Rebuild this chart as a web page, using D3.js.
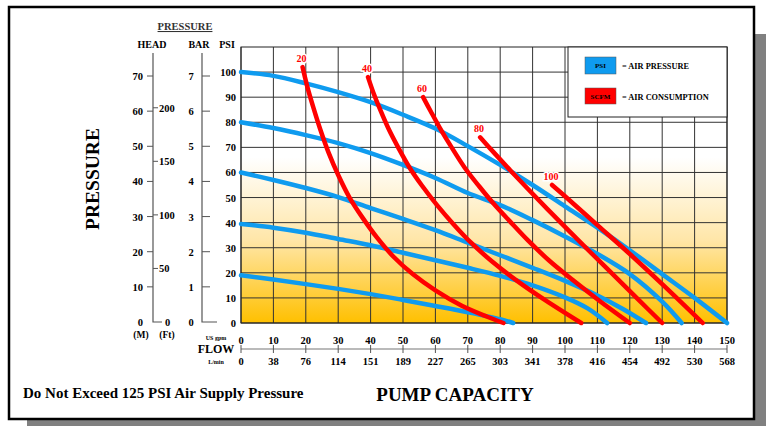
<!DOCTYPE html>
<html>
<head>
<meta charset="utf-8">
<script src="https://cdn.jsdelivr.net/npm/d3@7"></script>
<style>
  body { margin: 0; background: #fff; }
  svg text { font-family: "Liberation Serif", "DejaVu Serif", serif; font-weight: bold; }
</style>
</head>
<body>
<div id="chart"></div>
<script>
// air pressure curves (psi) : [gpm, psi discharge]
var psiLevels = [20, 40, 60, 80, 100];
var psi20 = [[0,19],[10,17.3],[20,15.5],[30,13.6],[40,11.5],[50,9.2],[60,6.8],[70,4.3],[80,1.5],[84,0]];
var psi40 = [[0,39.5],[10,38],[20,36],[30,33.5],[40,31],[50,28],[60,25],[70,22],[80,18.8],[90,15],[100,10.2],[107,5.8],[113,0]];
var psi60 = [[0,60],[10,57],[20,53.8],[30,50.2],[40,45.8],[50,41.5],[60,37],[70,32],[80,27],[90,22],[100,16.8],[110,11],[118,5.5],[125,0]];
var psi80 = [[0,80],[10,77.7],[20,74.9],[30,71.7],[40,67.7],[50,63],[60,57.8],[70,51.8],[80,47],[90,41],[100,34.5],[110,27.5],[120,19.5],[130,8.5],[136,0]];
var psi100 = [[0,100],[10,98.5],[20,95.5],[30,92],[40,88],[50,83],[60,77.5],[70,70.5],[80,63],[90,55],[100,46.5],[110,38],[120,29],[130,19.5],[140,10],[150,0]];

// air consumption curves (scfm)
var scfmLevels = [20, 40, 60, 80, 100];
var scfm20 = [[19,102],[20.5,94],[22.3,86],[24.5,77],[27,68],[30,59],[33.5,50],[37.5,42],[42,34],[47,26.5],[53,19.5],[60,13],[68,7],[76,2.5],[81,0]];
var scfm40 = [[39.2,98],[40.8,92],[42.8,85.5],[45.5,77.5],[48.5,70],[52,62],[56,54.5],[60.5,47],[65.5,39.5],[71,32],[77.5,24.5],[85,17],[94,9],[105,0]];
var scfm60 = [[56.2,90],[58.5,84.5],[61.4,77.7],[65,70],[69,62],[73.5,54.5],[78,47.5],[83,40.5],[88.5,33],[95,25],[102.5,17],[111,8.5],[120,0]];
var scfm80 = [[73.8,74],[78,68],[83,61],[88.5,53.5],[94.5,45.5],[101,37],[108,28],[115.5,18.5],[122.5,9.5],[130,0]];
var scfm100 = [[96,55],[100,50.5],[110,39],[120,27.5],[130,15.5],[142.5,0]];

// axis ticks
var gpmTicks = [0,10,20,30,40,50,60,70,80,90,100,110,120,130,140,150];
var lminTicks = [0,38,76,114,151,189,227,265,303,341,378,416,454,492,530,568];
var psiTicks = [0,10,20,30,40,50,60,70,80,90,100];
var meterTicks = [0,10,20,30,40,50,60,70];
var barTicks = [0,1,2,3,4,5,6,7];
var feetTicks = [0,50,100,150,200];

var W = 766, H = 426;
var blue = "#0f9bef", red = "#ff0000";

var svg = d3.select("#chart").append("svg").attr("width", W).attr("height", H);

// shadow + frame
svg.append("rect").attr("x", 27).attr("y", 34).attr("width", 739).attr("height", 392).attr("fill", "#808080");
svg.append("rect").attr("x", 9).attr("y", 7).attr("width", 745).attr("height", 412)
  .attr("fill", "#fff").attr("stroke", "#000").attr("stroke-width", 2.5);

var x = d3.scaleLinear().domain([0, 150]).range([241, 727]);
var y = d3.scaleLinear().domain([0, 110]).range([323, 47]);
var yM = d3.scaleLinear().domain([0, 70]).range([322, 76]);

// gradient background
var grad = svg.append("defs").append("linearGradient").attr("id", "bg")
  .attr("x1", 0).attr("y1", 0).attr("x2", 0).attr("y2", 1);
grad.append("stop").attr("offset", "0.4").attr("stop-color", "#ffffff");
grad.append("stop").attr("offset", "0.7").attr("stop-color", "#ffe6a8");
grad.append("stop").attr("offset", "1").attr("stop-color", "#ffc000");

svg.append("rect").attr("x", x(0)).attr("y", y(110))
  .attr("width", x(150) - x(0)).attr("height", y(0) - y(110)).attr("fill", "url(#bg)");

// grid
svg.append("g").selectAll("line").data(gpmTicks).join("line")
  .attr("x1", d => x(d)).attr("x2", d => x(d)).attr("y1", y(110)).attr("y2", y(0))
  .attr("stroke", "#333").attr("stroke-width", 1);
svg.append("g").selectAll("line").data(psiTicks).join("line")
  .attr("x1", x(0)).attr("x2", x(150)).attr("y1", d => y(d)).attr("y2", d => y(d))
  .attr("stroke", "#333").attr("stroke-width", 1);
svg.append("rect").attr("x", x(0)).attr("y", y(110))
  .attr("width", x(150) - x(0)).attr("height", y(0) - y(110))
  .attr("fill", "none").attr("stroke", "#222").attr("stroke-width", 1);

// PSI labels
svg.append("g").selectAll("text").data(psiTicks).join("text")
  .attr("x", 236).attr("y", d => y(d) + 4).attr("text-anchor", "end")
  .attr("font-size", 10.5).text(d => d);

// legend box
var lg = svg.append("g");
lg.append("rect").attr("x", 568).attr("y", 47).attr("width", 159).attr("height", 70)
  .attr("fill", "#fff").attr("stroke", "#222").attr("stroke-width", 1);
lg.append("rect").attr("x", 585).attr("y", 57).attr("width", 31).attr("height", 17).attr("fill", blue)
  .attr("stroke", "#555").attr("stroke-width", 0.5);
lg.append("text").attr("x", 600.5).attr("y", 68).attr("text-anchor", "middle").attr("font-size", 7).text("PSI");
lg.append("text").attr("x", 622).attr("y", 68.5).attr("font-size", 8.3).text("= AIR PRESSURE");
lg.append("rect").attr("x", 585).attr("y", 88).attr("width", 31).attr("height", 16).attr("fill", red)
  .attr("stroke", "#555").attr("stroke-width", 0.5);
lg.append("text").attr("x", 600.5).attr("y", 98.5).attr("text-anchor", "middle").attr("font-size", 7).text("SCFM");
lg.append("text").attr("x", 622).attr("y", 99.5).attr("font-size", 8.3).text("= AIR CONSUMPTION");

var line = d3.line().x(d => x(d[0])).y(d => y(d[1])).curve(d3.curveCatmullRom.alpha(0.5));

var psiCurves = [psi20, psi40, psi60, psi80, psi100];
var scfmCurves = [scfm20, scfm40, scfm60, scfm80, scfm100];

svg.append("g").selectAll("path").data(psiCurves).join("path")
  .attr("d", line).attr("fill", "none").attr("stroke", blue)
  .attr("stroke-width", 4.5).attr("stroke-linecap", "round");
svg.append("g").selectAll("path").data(scfmCurves).join("path")
  .attr("d", line).attr("fill", "none").attr("stroke", red)
  .attr("stroke-width", 4.5).attr("stroke-linecap", "round");

// scfm labels at top of each curve
svg.append("g").selectAll("text").data(scfmCurves).join("text")
  .attr("x", d => x(d[0][0]) - 1).attr("y", d => y(d[0][1]) - 5)
  .attr("text-anchor", "middle").attr("font-size", 10).attr("fill", red)
  .attr("stroke", "#fff").attr("stroke-width", 3).attr("paint-order", "stroke")
  .text((d, i) => scfmLevels[i]);

// left pressure axes
var ax = svg.append("g");
ax.append("text").attr("x", 185).attr("y", 30).attr("text-anchor", "middle")
  .attr("font-size", 10.5).attr("text-decoration", "underline").attr("fill", "#333").text("PRESSURE");
ax.append("text").attr("x", 152).attr("y", 48).attr("text-anchor", "middle").attr("font-size", 10).text("HEAD");
ax.append("text").attr("x", 199).attr("y", 48).attr("text-anchor", "middle").attr("font-size", 10).text("BAR");
ax.append("text").attr("x", 227).attr("y", 48).attr("text-anchor", "middle").attr("font-size", 10).text("PSI");

// head: meters / feet
ax.append("path").attr("d", "M153,53V" + yM(0) + "H162").attr("fill", "none").attr("stroke", "#555").attr("stroke-width", 1.2);
ax.selectAll(".mt").data(meterTicks.slice(1)).join("line")
  .attr("x1", 147).attr("x2", 153).attr("y1", d => yM(d)).attr("y2", d => yM(d)).attr("stroke", "#555");
ax.selectAll(".ml").data(meterTicks).join("text")
  .attr("x", 143).attr("y", d => yM(d) + 4).attr("text-anchor", "end").attr("font-size", 10.5).text(d => d);
ax.selectAll(".ft").data(feetTicks.slice(1)).join("line")
  .attr("x1", 153).attr("x2", 158).attr("y1", d => yM(d * 0.3048)).attr("y2", d => yM(d * 0.3048)).attr("stroke", "#555");
ax.selectAll(".fl").data(feetTicks).join("text")
  .attr("x", d => d === 0 ? 165 : 159).attr("y", d => yM(d * 0.3048) + 4).attr("font-size", 10.5).text(d => d);
ax.append("text").attr("x", 141).attr("y", 338).attr("text-anchor", "middle").attr("font-size", 9.5).text("(M)");
ax.append("text").attr("x", 167).attr("y", 338).attr("text-anchor", "middle").attr("font-size", 9.5).text("(Ft)");

// bar
ax.append("path").attr("d", "M202,53V" + yM(0) + "H217").attr("fill", "none").attr("stroke", "#555").attr("stroke-width", 1.2);
ax.selectAll(".bt").data(barTicks.slice(1)).join("line")
  .attr("x1", 202).attr("x2", 210).attr("y1", d => yM(d * 10)).attr("y2", d => yM(d * 10)).attr("stroke", "#555");
ax.selectAll(".bl").data(barTicks).join("text")
  .attr("x", 191).attr("y", d => yM(d * 10) + 4).attr("text-anchor", "middle").attr("font-size", 10.5).text(d => d);

// flow axis
var fx = svg.append("g");
fx.append("line").attr("x1", x(0)).attr("x2", x(150)).attr("y1", 349).attr("y2", 349)
  .attr("stroke", "#777").attr("stroke-width", 1.2);
fx.selectAll("line.t").data(gpmTicks).join("line").attr("class", "t")
  .attr("x1", d => x(d)).attr("x2", d => x(d)).attr("y1", 345).attr("y2", 353)
  .attr("stroke", "#555");
fx.selectAll("text.g").data(gpmTicks).join("text").attr("class", "g")
  .attr("x", d => x(d)).attr("y", 343.5).attr("text-anchor", "middle").attr("font-size", 10.5).text(d => d);
fx.selectAll("text.l").data(lminTicks).join("text").attr("class", "l")
  .attr("x", (d, i) => x(gpmTicks[i])).attr("y", 365).attr("text-anchor", "middle").attr("font-size", 10.5).text(d => d);
fx.append("text").attr("x", 216).attr("y", 340).attr("text-anchor", "middle").attr("font-size", 6).text("US gpm");
fx.append("text").attr("x", 216).attr("y", 353).attr("text-anchor", "middle").attr("font-size", 12).text("FLOW");
fx.append("text").attr("x", 216).attr("y", 363.5).attr("text-anchor", "middle").attr("font-size", 6).text("L/min");

// titles
svg.append("text").attr("transform", "translate(99,179) rotate(-90)").attr("text-anchor", "middle")
  .attr("font-size", 19.5).text("PRESSURE");
svg.append("text").attr("x", 455).attr("y", 401).attr("text-anchor", "middle")
  .attr("font-size", 19).text("PUMP CAPACITY");
svg.append("text").attr("x", 23).attr("y", 398).attr("font-size", 15).text("Do Not Exceed 125 PSI Air Supply Pressure");
</script>
</body>
</html>
